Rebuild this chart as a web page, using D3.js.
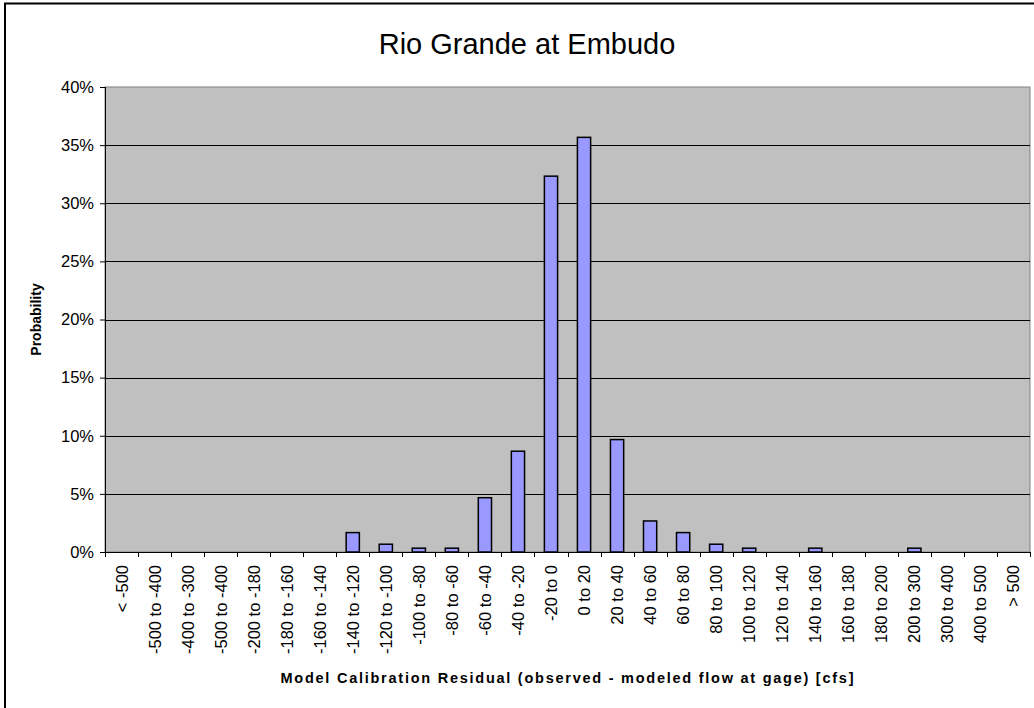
<!DOCTYPE html>
<html>
<head>
<meta charset="utf-8">
<script src="https://cdn.jsdelivr.net/npm/d3@7"></script>
<style>
  html, body { margin: 0; padding: 0; background: #fff; }
  svg { display: block; }
  text { font-family: Arial, "Liberation Sans", sans-serif; fill: #000; }
</style>
</head>
<body>
<svg id="chart" width="1034" height="708"></svg>
<script>
// Residual bins (cfs) and the share of days falling in each one
const categories = [
  "< -500", "-500 to -400", "-400 to -300", "-500 to -400", "-200 to -180",
  "-180 to -160", "-160 to -140", "-140 to -120", "-120 to -100", "-100 to -80",
  "-80 to -60", "-60 to -40", "-40 to -20", "-20 to 0", "0 to 20",
  "20 to 40", "40 to 60", "60 to 80", "80 to 100", "100 to 120",
  "120 to 140", "140 to 160", "160 to 180", "180 to 200", "200 to 300",
  "300 to 400", "400 to 500", "> 500"
];
const probability = [
  0, 0, 0, 0, 0,
  0, 0, 0.0167, 0.0067, 0.0033,
  0.0033, 0.0467, 0.0867, 0.3233, 0.3567,
  0.0967, 0.0267, 0.0167, 0.0067, 0.0033,
  0, 0.0033, 0, 0, 0.0033,
  0, 0, 0
];
const yTicks = [0, 0.05, 0.10, 0.15, 0.20, 0.25, 0.30, 0.35, 0.40];

const titleText = "Rio Grande at Embudo";
const xTitle = "Model Calibration Residual (observed - modeled flow at gage)  [cfs]";
const yTitle = "Probability";

const svg = d3.select("#chart");
const plot = { left: 105, top: 87, right: 1030, bottom: 552 };

// outer chart frame
svg.append("rect")
  .attr("x", 5).attr("y", 3.5)
  .attr("width", 1100).attr("height", 800)
  .attr("fill", "#fff").attr("stroke", "#000").attr("stroke-width", 2);

const x = d3.scaleBand()
  .domain(d3.range(categories.length))
  .range([plot.left, plot.right])
  .paddingInner(0.6).paddingOuter(0.3);

const y = d3.scaleLinear().domain([0, 0.40]).range([plot.bottom, plot.top]);

// plot background
svg.append("rect")
  .attr("x", plot.left).attr("y", plot.top)
  .attr("width", plot.right - plot.left).attr("height", plot.bottom - plot.top)
  .attr("fill", "#c0c0c0").attr("stroke", "#808080").attr("stroke-width", 1);

// horizontal gridlines
svg.append("g").selectAll("line")
  .data(yTicks.filter(d => d > 0 && d < 0.40))
  .join("line")
  .attr("x1", plot.left).attr("x2", plot.right)
  .attr("y1", d => Math.round(y(d)) + 0.5).attr("y2", d => Math.round(y(d)) + 0.5)
  .attr("stroke", "#000").attr("stroke-width", 1);

// bars
svg.append("g").selectAll("rect")
  .data(probability.map((v, i) => ({ i, v })).filter(d => d.v > 0))
  .join("rect")
  .attr("x", d => x(d.i))
  .attr("y", d => y(d.v))
  .attr("width", x.bandwidth())
  .attr("height", d => y(0) - y(d.v))
  .attr("fill", "#9999ff").attr("stroke", "#000").attr("stroke-width", 1.5);

// y axis
const yAxis = d3.axisLeft(y).tickValues(yTicks)
  .tickFormat(d3.format(".0%")).tickSize(5).tickPadding(6);
const yg = svg.append("g").attr("transform", `translate(${plot.left},0)`).call(yAxis);
yg.select(".domain").attr("stroke", "#000").attr("d", `M0.5,${plot.top}V${plot.bottom}`);
yg.selectAll(".tick line").attr("stroke", "#000");
yg.selectAll(".tick text").attr("font-size", 16.5).attr("font-family", "Arial, 'Liberation Sans', sans-serif");

// x axis: ticks sit on category boundaries
const boundaries = d3.range(categories.length + 1).map(i => plot.left + i * (plot.right - plot.left) / categories.length);
const xg = svg.append("g");
xg.append("line")
  .attr("x1", plot.left).attr("x2", plot.right)
  .attr("y1", plot.bottom + 0.5).attr("y2", plot.bottom + 0.5)
  .attr("stroke", "#000");
xg.selectAll("line.tick")
  .data(boundaries)
  .join("line").attr("class", "tick")
  .attr("x1", d => Math.round(d) + 0.5).attr("x2", d => Math.round(d) + 0.5)
  .attr("y1", plot.bottom).attr("y2", plot.bottom + 5)
  .attr("stroke", "#000");
xg.selectAll("text")
  .data(categories)
  .join("text")
  .attr("transform", (d, i) => `translate(${x(i) + x.bandwidth() / 2 + 6},${plot.bottom + 13}) rotate(-90)`)
  .attr("text-anchor", "end")
  .attr("font-size", 16.5)
  .text(d => d);

// titles
svg.append("text")
  .attr("x", 527).attr("y", 54)
  .attr("text-anchor", "middle")
  .attr("font-size", 29)
  .text(titleText);

svg.append("text")
  .attr("x", 567).attr("y", 683)
  .attr("text-anchor", "middle")
  .attr("font-size", 14.5).attr("font-weight", "bold")
  .attr("textLength", 573).attr("lengthAdjust", "spacing")
  .text(xTitle);

svg.append("text")
  .attr("transform", `translate(41,${(plot.top + plot.bottom) / 2}) rotate(-90)`)
  .attr("text-anchor", "middle")
  .attr("font-size", 14).attr("font-weight", "bold")
  .text(yTitle);
</script>
</body>
</html>
